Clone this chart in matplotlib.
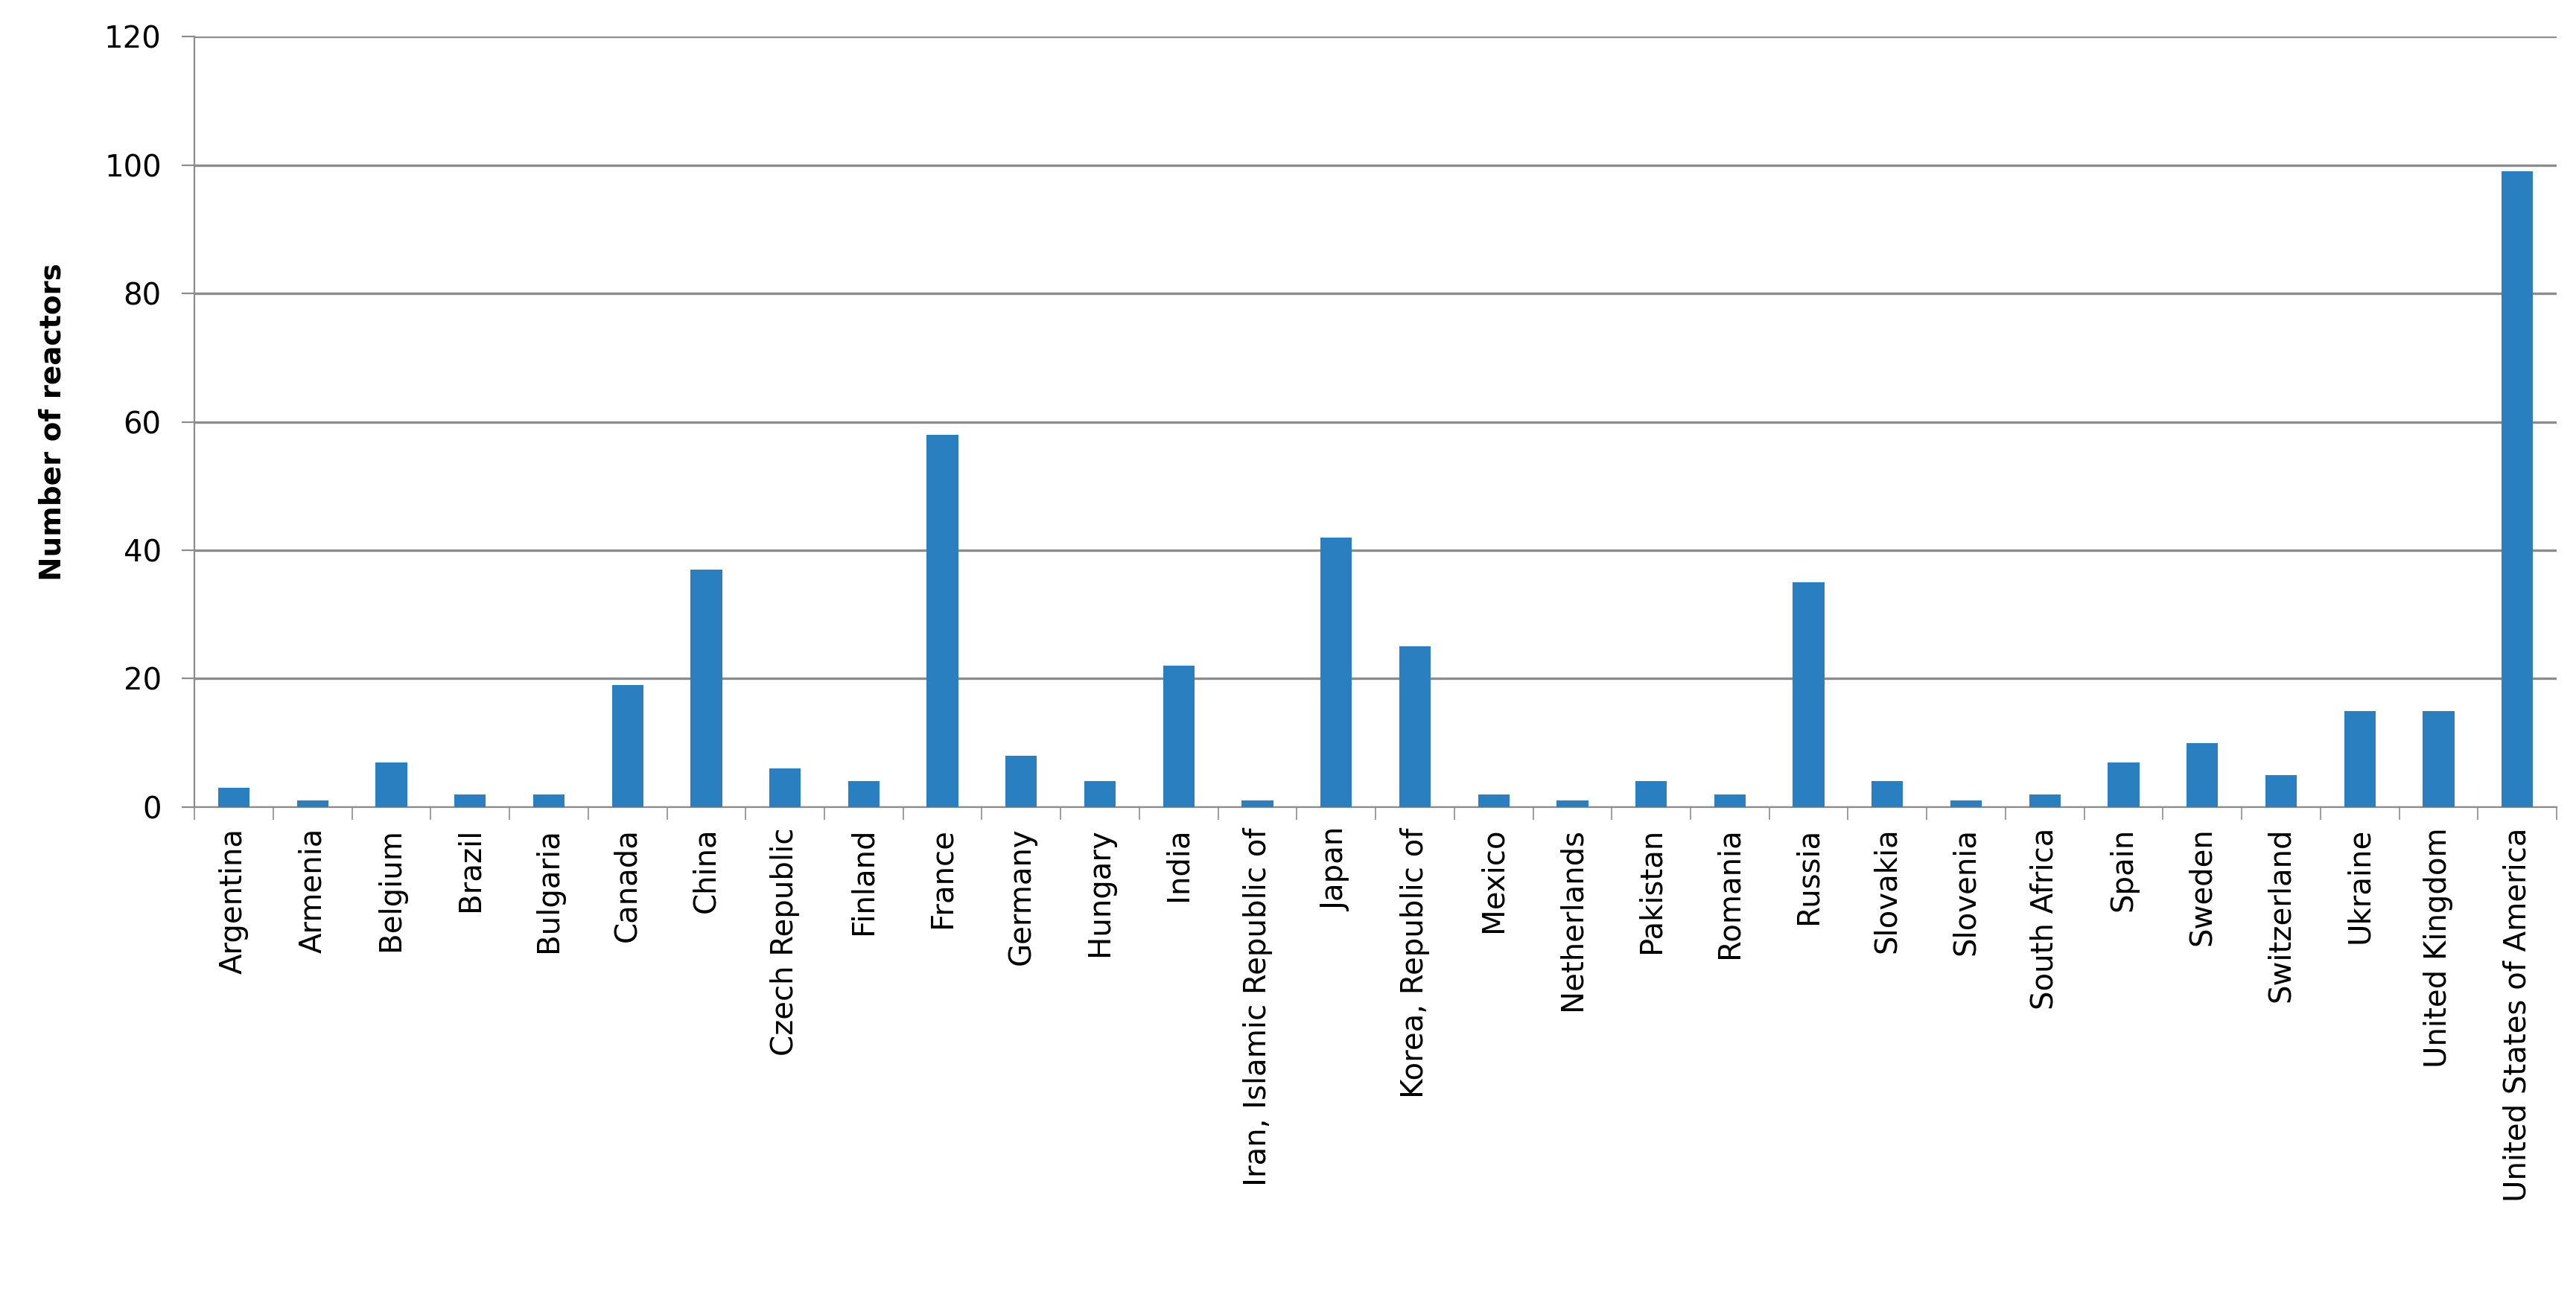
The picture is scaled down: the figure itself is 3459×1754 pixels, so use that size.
import matplotlib.pyplot as plt
import numpy as np

countries = ["Argentina", "Armenia", "Belgium", "Brazil", "Bulgaria", "Canada", "China",
             "Czech Republic", "Finland", "France", "Germany", "Hungary", "India",
             "Iran, Islamic Republic of", "Japan", "Korea, Republic of", "Mexico",
             "Netherlands", "Pakistan", "Romania", "Russia", "Slovakia", "Slovenia",
             "South Africa", "Spain", "Sweden", "Switzerland", "Ukraine", "United Kingdom",
             "United States of America"]
reactors = [3, 1, 7, 2, 2, 19, 37, 6, 4, 58, 8, 4, 22, 1, 42, 25, 2, 1, 4, 2, 35, 4, 1, 2,
            7, 10, 5, 15, 15, 99]

fig = plt.figure(figsize=(17.295, 8.77), dpi=200)
ax = fig.add_axes([0.0755, 0.382, 0.917, 0.59])

x = np.arange(len(countries))
ax.bar(x, reactors, width=0.4, color="#2a7fc1", zorder=3)

ax.set_xlim(-0.5, len(countries) - 0.5)
ax.set_ylim(0, 120)
ax.set_yticks(range(0, 121, 20))
ax.yaxis.grid(True, color="#8c8c8c", linewidth=1.2, zorder=0)
ax.set_xticks(x)
ax.set_xticklabels(countries, rotation=90, fontsize=14.5)
ax.tick_params(axis="x", length=0, pad=10)
ax.set_xticks(np.arange(-0.5, len(countries)), minor=True)
ax.tick_params(axis="x", which="minor", length=6, color="#8c8c8c")
ax.tick_params(axis="y", labelsize=14.5, length=6, color="#8c8c8c", pad=10)
for s in ["top", "right"]:
    ax.spines[s].set_visible(False)
for s in ["left", "bottom"]:
    ax.spines[s].set_color("#8c8c8c")
ax.set_ylabel("Number of reactors", fontsize=14, fontweight="bold", labelpad=18)

fig.savefig("out.png")
